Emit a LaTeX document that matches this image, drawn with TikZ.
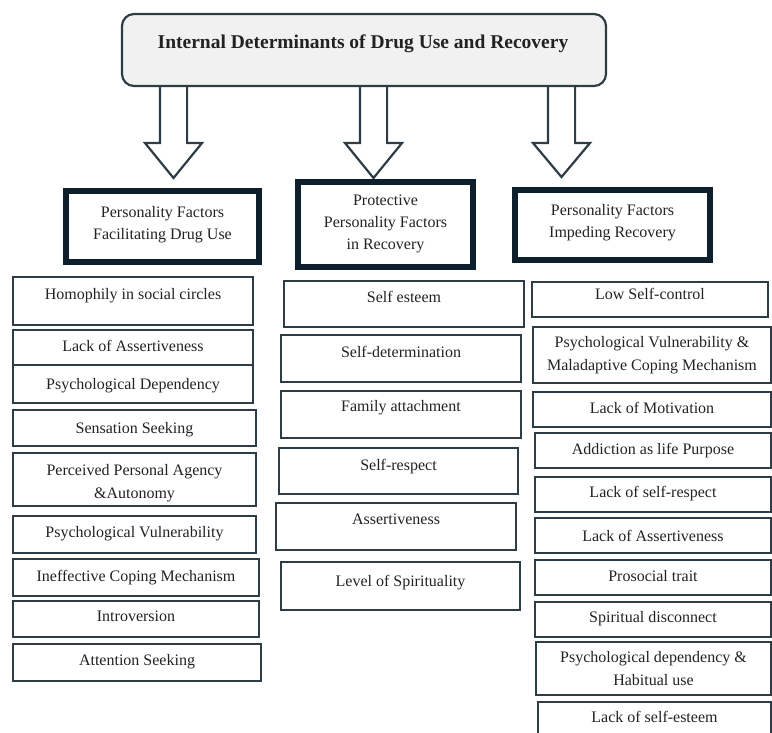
\documentclass[tikz,border=0pt]{standalone}
\usepackage{fontspec}
\setmainfont{Liberation Serif}
\definecolor{hdr}{HTML}{0E1F2B}
\definecolor{itm}{HTML}{2E3D45}
\definecolor{ttl}{HTML}{F1F1F1}
\definecolor{txt}{HTML}{222222}
\tikzset{
  itembox/.style={draw=itm, line width=1.3pt, inner sep=0pt, outer sep=0pt},
  itemtext/.style={font=\fontsize{16}{23}\selectfont, text=txt, align=center, inner sep=0pt},
  oneline/.style={text height=11pt, text depth=3pt},
  hdrbox/.style={draw=hdr, line width=6pt, fill=white, inner sep=0pt, outer sep=0pt},
  titlebox/.style={draw=itm, line width=2.2pt, fill=ttl, rounded corners=12pt, inner sep=0pt},
  titletext/.style={font=\fontsize{19.5}{24}\selectfont\bfseries, text=txt, inner sep=0pt},
  barrow/.style={draw=itm, line width=2.2pt, fill=white, line join=miter},
}
% name, x1, y1, x2, y2, text y, text, extra text style
\newcommand\itm[8]{%
  \node[itembox, minimum width={#4-#2}, minimum height={#5-#3}] (#1) at ({(#2+#4)/2},{(#3+#5)/2}) {};
  \node[itemtext,#8] (#1t) at ({(#2+#4)/2},#6) {#7};
}
\newcommand\hdr[7]{%
  \node[hdrbox, minimum width={#4-#2}, minimum height={#5-#3}] (#1) at ({(#2+#4)/2},{(#3+#5)/2}) {};
  \node[itemtext, font=\fontsize{16}{22}\selectfont] (#1t) at ({(#2+#4)/2},#6) {#7};
}
\newcommand\blockarrow[3]{%
  \draw[barrow] (#1-13.6,#2) -- (#1-13.6,143) -- (#1-28.5,143) -- (#1,#3)
    -- (#1+28.5,143) -- (#1+13.6,143) -- (#1+13.6,#2);
}
\begin{document}
\begin{tikzpicture}[x=1pt,y=-1pt]
\useasboundingbox (0,0) rectangle (772,732);

% block arrows
\blockarrow{173.5}{86}{178}
\blockarrow{373.5}{86}{178}
\blockarrow{561.5}{86}{177}

% title
\node[titlebox, minimum width=484pt, minimum height=72pt] (title) at (364,50) {};
\node[titletext] (titlet) at (363,44) {Internal Determinants of Drug Use and Recovery};

% headers
\hdr{hL}{66}{191}{259}{262}{224.5}{Personality Factors\\Facilitating Drug Use}
\hdr{hM}{298}{182}{473}{267}{224}{Protective\\Personality Factors\\in Recovery}
\hdr{hR}{515}{190}{710}{260}{222.5}{Personality Factors\\Impeding Recovery}

% left column
\itm{L1}{13}{277}{253}{325}{295}{Homophily in social circles}{oneline}
\itm{L2}{13}{330}{253}{365}{347}{Lack of Assertiveness}{oneline}
\itm{L3}{13}{365}{253}{403}{385}{Psychological Dependency}{oneline}
\itm{L4}{13}{410}{256}{446}{429}{Sensation Seeking}{oneline}
\itm{L5}{13}{453}{256}{506}{483.5}{Perceived Personal Agency\\\&Autonomy}{}
\itm{L6}{13}{516}{256}{553}{533}{Psychological Vulnerability}{oneline}
\itm{L7}{13}{559}{259}{596}{577}{Ineffective Coping Mechanism}{oneline}
\itm{L8}{13}{601}{259}{637}{617}{Introversion}{oneline}
\itm{L9}{13}{644}{261}{681}{661}{Attention Seeking}{oneline}

% middle column
\itm{M1}{284}{281}{524}{327}{298}{Self esteem}{oneline}
\itm{M2}{281}{335}{521}{382}{353}{Self-determination}{oneline}
\itm{M3}{281}{391}{521}{438}{407}{Family attachment}{oneline}
\itm{M4}{279}{448}{518}{494}{466}{Self-respect}{oneline}
\itm{M5}{276}{503}{516}{550}{520}{Assertiveness}{oneline}
\itm{M6}{281}{562}{520}{610}{582}{Level of Spirituality}{oneline}

% right column
\itm{R1}{532}{282}{768}{317}{295}{Low Self-control}{oneline}
\itm{R2}{533}{327}{771}{383}{355}{Psychological Vulnerability \&\\Maladaptive Coping Mechanism}{}
\itm{R3}{533}{392}{771}{427}{409}{Lack of Motivation}{oneline}
\itm{R4}{535}{433}{771}{468}{450}{Addiction as life Purpose}{oneline}
\itm{R5}{535}{477}{771}{512}{493}{Lack of self-respect}{oneline}
\itm{R6}{535}{518}{771}{553}{537}{Lack of Assertiveness}{oneline}
\itm{R7}{535}{560}{771}{595}{577}{Prosocial trait}{oneline}
\itm{R8}{535}{602}{771}{637}{618}{Spiritual disconnect}{oneline}
\itm{R9}{536}{642}{771}{695}{669}{Psychological dependency \&\\Habitual use}{}
\itm{R10}{538}{702}{771}{745}{718}{Lack of self-esteem}{oneline}
\end{tikzpicture}
\end{document}
